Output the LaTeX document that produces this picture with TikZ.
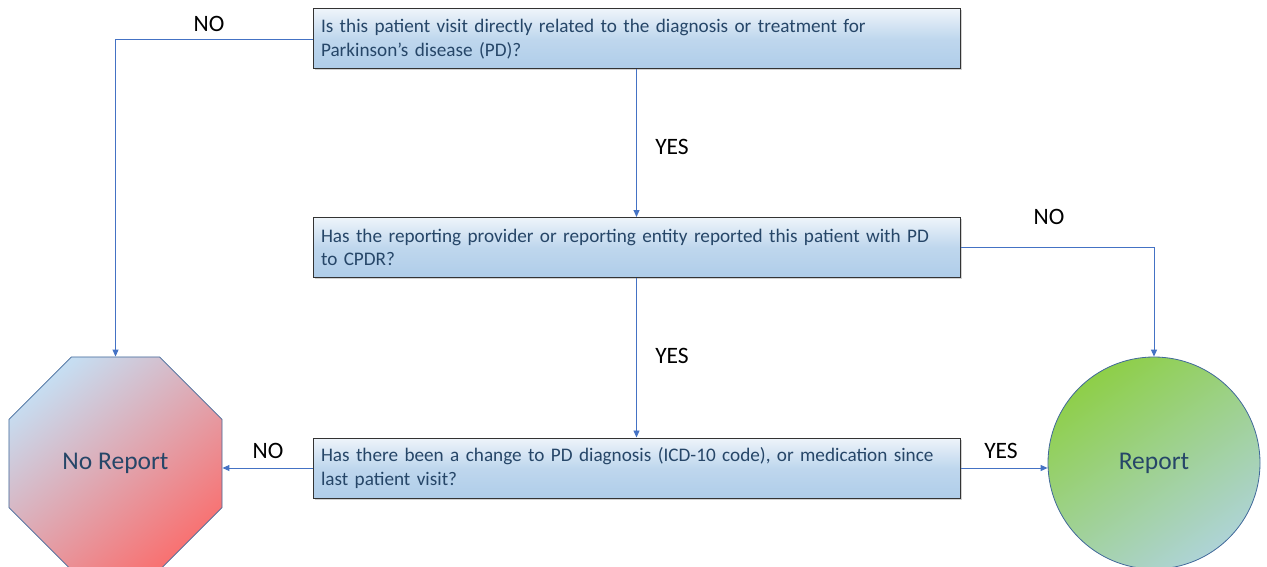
\documentclass[tikz,border=0pt]{standalone}
\usepackage{fontspec}
\setmainfont{Carlito}
\usetikzlibrary{arrows.meta,shapes.geometric,shadows}
\definecolor{arrowblue}{HTML}{4472C4}
\definecolor{boxtext}{HTML}{264668}
\definecolor{boxtop}{HTML}{EEF4FA}
\definecolor{boxbot}{HTML}{AFCDE9}
\definecolor{edgeblue}{HTML}{41699A}
\definecolor{octtop}{HTML}{C6DDF1}
\definecolor{octbot}{HTML}{F87272}
\definecolor{cirtop}{HTML}{8ECF48}
\definecolor{cirbot}{HTML}{AED3D6}
\begin{document}
\begin{tikzpicture}[x=1pt,y=-1pt,
  qbox/.style={draw=black!80, line width=1pt, minimum width=647pt, minimum height=60pt,
    text width=631pt, inner xsep=8pt, align=left, font=\fontsize{19.2}{23.5}\selectfont,
    text=boxtext, top color=boxtop, bottom color=boxbot, middle color=boxbot!75!boxtop,
    drop shadow={shadow xshift=1.5pt, shadow yshift=-1.5pt, opacity=0.35}},
  lbl/.style={font=\fontsize{23.5}{26}\selectfont, text=black},
  arr/.style={draw=arrowblue, line width=0.9pt, -{Triangle[length=7pt,width=6pt]}},
  endtxt/.style={font=\fontsize{25.5}{30}\selectfont, text=boxtext}]
\useasboundingbox (0,0) rectangle (1267,567);
\fill[white] (0,0) rectangle (1267,567);
\node[qbox] (b1) at (636.5,39) {Is this patient visit directly related to the diagnosis or treatment for\\Parkinson’s disease (PD)?};
\node[qbox] (b2) at (636.5,247.5) {Has the reporting provider or reporting entity reported this patient with PD\\to CPDR?};
\node[qbox] (b3) at (636.5,468) {Has there been a change to PD diagnosis (ICD-10 code), or medication since\\last patient visit?};
\node[regular polygon, regular polygon sides=8, minimum size=230.6pt, inner sep=0pt,
  draw=edgeblue, line width=0.8pt, top color=octtop, bottom color=octbot, shading angle=40,
  endtxt] (nr) at (115.5,463.5) {No Report};
\node[circle, minimum size=212pt, inner sep=0pt, draw=edgeblue, line width=0.8pt,
  top color=cirtop, bottom color=cirbot, shading angle=35,
  endtxt] (rp) at (1154,463) {Report};
\node[lbl] (n1) at (209,24) {NO};
\node[lbl] (y1) at (672,147) {YES};
\node[lbl] (n2) at (1049,217) {NO};
\node[lbl] (y2) at (672,356) {YES};
\node[lbl] (n3) at (268,451) {NO};
\node[lbl] (y3) at (1001,451) {YES};
\draw[arr] (b1.west) -| (nr.north);
\draw[arr] (b1.south) -- (b2.north);
\draw[arr] (b2.east) -| (rp.north);
\draw[arr] (b2.south) -- (b3.north);
\draw[arr] (b3.west) -- (b3.west -| nr.east);
\draw[arr] (b3.east) -- (b3.east -| rp.west);
\end{tikzpicture}
\end{document}
